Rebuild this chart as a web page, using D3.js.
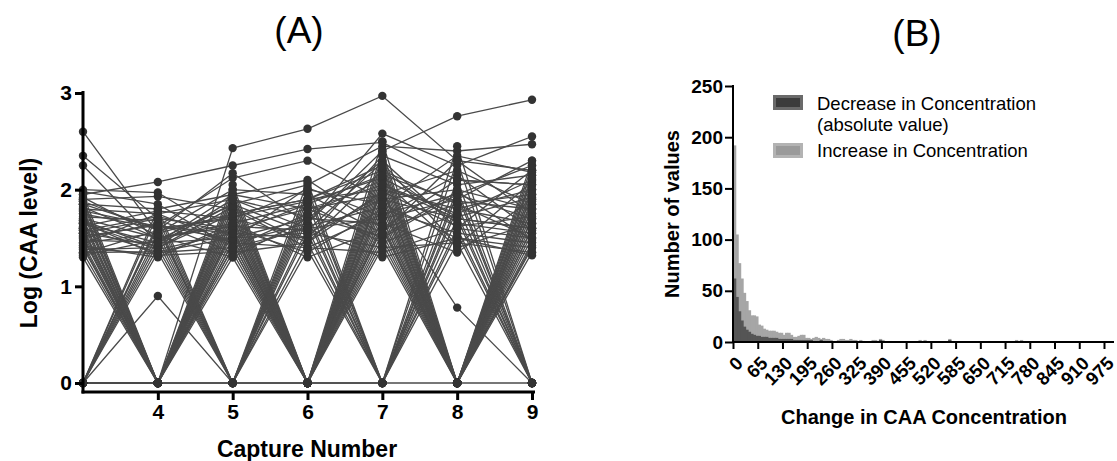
<!DOCTYPE html>
<html><head><meta charset="utf-8">
<script src="https://cdn.jsdelivr.net/npm/d3@7"></script>
<style>body{margin:0;background:#fff}svg{display:block}text{font-family:"Liberation Sans",Arial,sans-serif}</style>
</head><body><svg id="c" width="1117" height="461"></svg>
<script>
// ---------- Panel A data ----------
const captures = [3, 4, 5, 6, 7, 8, 9];
const captureTicks = [4, 5, 6, 7, 8, 9];
const logTicks = [0, 1, 2, 3];
// each row: log(CAA level) at captures 3..9
const allPositive = [
  [1.95, 2.08, 2.25, 2.42, 2.49, 2.10, 2.05],
  [2.60, 1.55, 1.75, 1.90, 2.20, 1.85, 1.95],
  [2.35, 1.70, 1.60, 1.80, 2.05, 1.70, 1.60],
  [2.25, 1.45, 1.85, 1.55, 1.90, 2.00, 1.80],
  [2.00, 1.97, 1.50, 1.70, 2.30, 1.60, 2.20],
  [1.90, 1.93, 1.80, 1.40, 1.75, 1.95, 1.70],
  [1.85, 1.80, 1.95, 2.10, 1.60, 1.85, 1.50],
  [1.80, 1.75, 1.45, 1.65, 2.40, 2.76, 2.93],
  [1.75, 1.60, 1.70, 2.00, 1.85, 1.50, 1.40],
  [1.70, 1.50, 1.65, 1.85, 1.45, 1.75, 2.10],
  [1.65, 1.38, 1.55, 1.50, 1.95, 2.20, 1.85],
  [1.60, 1.35, 1.40, 1.75, 2.10, 1.40, 1.65],
  [1.55, 1.42, 1.90, 1.60, 1.70, 1.90, 2.30],
  [1.50, 1.65, 1.35, 1.45, 2.20, 1.65, 1.55],
  [1.45, 1.55, 2.00, 1.95, 1.55, 2.30, 1.75],
  [1.40, 1.33, 1.60, 1.35, 1.80, 1.55, 1.45],
  [1.38, 1.40, 1.75, 1.90, 2.00, 1.80, 2.00],
  [1.35, 1.36, 1.50, 1.55, 1.40, 1.45, 1.35],
  [1.32, 1.48, 1.85, 2.05, 2.45, 2.40, 2.47],
  [1.92, 1.52, 1.30, 1.70, 1.65, 1.35, 1.90],
  [1.78, 1.62, 2.12, 2.30, 1.90, 1.70, 1.60],
  [1.62, 1.78, 1.70, 1.50, 2.35, 2.05, 2.15],
  [1.48, 1.45, 1.95, 1.80, 1.50, 1.95, 2.25],
  [1.88, 1.58, 2.17, 1.65, 2.58, 2.25, 2.55],
  [1.72, 1.68, 1.45, 1.40, 1.35, 1.60, 1.50],
  [1.58, 1.72, 1.55, 1.85, 2.15, 1.88, 1.80],
  [1.42, 1.30, 1.65, 1.30, 1.60, 2.10, 2.05],
  [1.98, 1.85, 1.40, 1.60, 1.30, 1.50, 1.32],
  [1.68, 1.40, 1.82, 1.45, 1.98, 1.62, 1.72],
  [1.52, 1.63, 1.48, 2.02, 1.72, 2.15, 1.58],
  [1.82, 1.50, 1.62, 1.58, 2.28, 1.42, 2.08],
  [1.44, 1.75, 1.90, 1.72, 1.52, 1.98, 1.48],
  [1.34, 1.58, 1.72, 1.88, 2.12, 1.72, 1.92],
  [1.66, 1.32, 1.36, 1.62, 1.82, 2.35, 2.18],
  [0.00, 0.00, 2.43, 2.63, 2.97, 2.30, 2.20]
];
const zeroEven = [
  [1.95, 0, 1.80, 0, 2.20, 0, 2.00],
  [1.90, 0, 1.60, 0, 1.90, 0, 1.80],
  [1.85, 0, 1.95, 0, 2.40, 0, 2.10],
  [1.80, 0, 1.45, 0, 1.70, 0, 1.55],
  [1.75, 0, 1.70, 0, 2.05, 0, 1.90],
  [1.70, 0, 1.55, 0, 1.50, 0, 1.65],
  [1.68, 0, 1.85, 0, 2.30, 0, 2.20],
  [1.65, 0, 1.40, 0, 1.85, 0, 1.40],
  [1.60, 0, 1.65, 0, 1.60, 0, 1.75],
  [1.55, 0, 1.90, 0, 2.10, 0, 1.95],
  [1.52, 0, 1.50, 0, 1.40, 0, 1.50],
  [1.50, 0, 1.75, 0, 1.95, 0, 2.05],
  [1.45, 0, 1.35, 0, 1.75, 0, 1.60],
  [1.42, 0, 1.60, 0, 2.25, 0, 1.85],
  [1.40, 0, 1.80, 0, 1.55, 0, 1.70],
  [1.35, 0, 1.45, 0, 1.80, 0, 1.45],
  [1.30, 0, 1.70, 0, 2.00, 0, 2.15],
  [1.88, 0, 2.05, 0, 1.65, 0, 1.35],
  [1.78, 0, 1.30, 0, 2.15, 0, 1.88],
  [1.58, 0, 1.95, 0, 1.45, 0, 2.25],
  [0, 0, 1.65, 0, 1.90, 0, 1.80],
  [0, 0, 1.40, 0, 2.35, 0, 1.60],
  [0, 0, 1.90, 0, 1.70, 0, 2.00],
  [0, 0, 2.00, 0, 2.50, 0, 1.70],
  [0, 0, 1.58, 0, 2.02, 0, 2.12],
  [0, 0, 1.75, 0, 1.62, 0, 1.42]
];
const zeroOdd = [
  [0, 1.80, 0, 1.95, 0, 2.10, 0],
  [0, 1.65, 0, 1.70, 0, 1.85, 0],
  [0, 1.50, 0, 1.55, 0, 2.30, 0],
  [0, 1.40, 0, 1.85, 0, 1.60, 0],
  [0, 1.75, 0, 1.45, 0, 1.95, 0],
  [0, 0.90, 0, 2.00, 0, 1.70, 0],
  [0, 1.35, 0, 1.60, 0, 2.00, 0],
  [0, 1.55, 0, 1.75, 0, 1.45, 0],
  [0, 1.62, 0, 1.38, 0, 2.45, 0],
  [0, 1.45, 0, 2.08, 0, 1.55, 0]
];
const mixed = [
  [1.85, 1.60, 0, 1.80, 1.95, 0.78, 0],
  [1.65, 1.45, 1.50, 0, 0, 1.80, 1.65],
  [0, 0, 0, 0, 0, 0, 0],
  [1.55, 1.70, 0, 0, 2.05, 1.75, 0],
  [0, 1.62, 1.55, 0, 1.85, 0, 1.95],
  [1.60, 0, 0, 1.90, 2.25, 0, 2.30]
];

// ---------- Panel B data ----------
const binWidth = 6.5;
const xTicksB = [0, 65, 130, 195, 260, 325, 390, 455, 520, 585, 650, 715, 780, 845, 910, 975];
const yTicksB = [0, 50, 100, 150, 200, 250];
// counts of consecutive bins starting at 0
const increaseHead = [192,105,77,62,48,40,31,26,26,25,17,16,13,12,11,11,11,10,9,9,7,9,9,7,5,5,6,7,7,4,4,3,4,5,4,3,4,3,3,2,1,0,2,3,3,2,2,3,2,2];
const decreaseHead = [62,44,30,21,15,12,10,8,7,6,6,5,5,5,4,4,4,4,3,3,3,3,3,3,2,2,2,2,2,2,2,2,1,1,1,2,1,1,1,1,1,1,1,1,0,1,1,1,1,1];
// sparse tail bins: lower edge and count
const increaseTailStart = [331.5, 338, 357.5, 364, 370.5, 377, 383.5, 390, 409.5, 487.5, 500.5, 507, 565.5, 643.5, 669.5, 741, 754, 760.5, 975];
const increaseTailCount = [2, 1, 1, 2, 2, 1, 3, 2, 1, 2, 2, 1, 3, 1, 1, 2, 2, 1, 1];
const decreaseTailStart = [338, 383.5, 565.5];
const decreaseTailCount = [1, 2, 2];
const legendLabels = [["Decrease in Concentration", "(absolute value)"], ["Increase in Concentration"]];

// ---------- Drawing ----------
const svg = d3.select("#c");
const lineColor = "#4a4a4a", dotColor = "#333";

// Panel A
const xA = d3.scaleLinear().domain([3, 9]).range([83, 532]);
const yA = d3.scaleLinear().domain([0, 3]).range([383, 93]);
const rows = [...allPositive, ...zeroEven, ...zeroOdd, ...mixed];
const gA = svg.append("g");
const line = d3.line().x((d, i) => xA(captures[i])).y(d => yA(d));
gA.append("g").selectAll("path").data(rows).join("path")
  .attr("d", line).attr("fill", "none").attr("stroke", lineColor).attr("stroke-width", 1.3);
const pts = rows.flatMap(r => r.map((v, i) => ({x: captures[i], y: v})));
gA.append("g").selectAll("circle").data(pts).join("circle")
  .attr("cx", d => xA(d.x)).attr("cy", d => yA(d.y)).attr("r", 4.2).attr("fill", dotColor);

const axisLeftA = gA.append("g").attr("transform", "translate(83,0)")
  .call(d3.axisLeft(yA).tickValues(logTicks).tickSize(8).tickPadding(3).tickFormat(d3.format("d")));
axisLeftA.select(".domain").remove();
axisLeftA.selectAll(".tick line").attr("stroke", "#000").attr("stroke-width", 3);
axisLeftA.selectAll("text").attr("font-size", 21).attr("font-weight", "bold").attr("fill", "#000");
gA.append("line").attr("x1", 83).attr("x2", 83).attr("y1", 91).attr("y2", 393.5).attr("stroke", "#000").attr("stroke-width", 3);

const axisBottomA = gA.append("g").attr("transform", "translate(0,392)")
  .call(d3.axisBottom(xA).tickValues(captureTicks).tickSize(8).tickPadding(4).tickFormat(d3.format("d")));
axisBottomA.select(".domain").remove();
axisBottomA.selectAll(".tick line").attr("stroke", "#000").attr("stroke-width", 3);
axisBottomA.selectAll("text").attr("font-size", 21).attr("font-weight", "bold").attr("fill", "#000");
gA.append("line").attr("x1", 81.5).attr("x2", 535).attr("y1", 392).attr("y2", 392).attr("stroke", "#000").attr("stroke-width", 3);

gA.append("text").attr("x", 307).attr("y", 457).attr("text-anchor", "middle")
  .attr("font-size", 23).attr("font-weight", "bold").text("Capture Number");
gA.append("text").attr("transform", "translate(37,243) rotate(-90)").attr("text-anchor", "middle")
  .attr("font-size", 23).attr("font-weight", "bold").text("Log (CAA level)");
svg.append("text").attr("x", 299).attr("y", 43).attr("text-anchor", "middle").attr("font-size", 37).text("(A)");

// Panel B
const xB = d3.scaleLinear().domain([0, 1000]).range([733, 1113.5]);
const yB = d3.scaleLinear().domain([0, 250]).range([342, 86]);
const gB = svg.append("g");
const toBins = (head, tStart, tCount) => [
  ...head.map((c, i) => ({x0: i * binWidth, c})),
  ...tStart.map((s, i) => ({x0: s, c: tCount[i]}))
].filter(d => d.c > 0);
const incBins = toBins(increaseHead, increaseTailStart, increaseTailCount);
const decBins = toBins(decreaseHead, decreaseTailStart, decreaseTailCount);
const drawBars = (bins, fill) => gB.append("g").selectAll("rect").data(bins).join("rect")
  .attr("x", d => xB(d.x0)).attr("width", d => xB(d.x0 + binWidth) - xB(d.x0) + 0.8)
  .attr("y", d => yB(d.c)).attr("height", d => yB(0) - yB(d.c)).attr("fill", fill);
drawBars(incBins, "#a6a6a6");
drawBars(decBins, "#555555");

const axisLeftB = gB.append("g").attr("transform", "translate(733,0)")
  .call(d3.axisLeft(yB).tickValues(yTicksB).tickSize(8).tickPadding(2));
axisLeftB.select(".domain").remove();
axisLeftB.selectAll(".tick line").attr("stroke", "#000").attr("stroke-width", 2);
axisLeftB.selectAll("text").attr("font-size", 19).attr("font-weight", "bold").attr("fill", "#000");
gB.append("line").attr("x1", 733).attr("x2", 733).attr("y1", 85).attr("y2", 343).attr("stroke", "#000").attr("stroke-width", 2);

const axisBottomB = gB.append("g").attr("transform", "translate(0,342)")
  .call(d3.axisBottom(xB).tickValues(xTicksB).tickSize(7));
axisBottomB.select(".domain").remove();
axisBottomB.selectAll(".tick line").attr("stroke", "#000").attr("stroke-width", 2);
axisBottomB.selectAll("text").attr("font-size", 18.5).attr("font-weight", "bold").attr("fill", "#000")
  .attr("text-anchor", "end").attr("dy", "0.35em").attr("y", 0)
  .attr("transform", "translate(6,18) rotate(-45)");
gB.append("line").attr("x1", 732).attr("x2", 1114).attr("y1", 342).attr("y2", 342).attr("stroke", "#000").attr("stroke-width", 2);

gB.append("text").attr("x", 924).attr("y", 424).attr("text-anchor", "middle")
  .attr("font-size", 20).attr("font-weight", "bold").text("Change in CAA Concentration");
gB.append("text").attr("transform", "translate(679,214) rotate(-90)").attr("text-anchor", "middle")
  .attr("font-size", 20).attr("font-weight", "bold").text("Number of values");
svg.append("text").attr("x", 917).attr("y", 46).attr("text-anchor", "middle").attr("font-size", 37).text("(B)");

// Legend
const legend = gB.append("g");
const swatches = [{y: 95, outer: "#6a6a6a", inner: "#3c3c3c"}, {y: 143, outer: "#b3b3b3", inner: "#9a9a9a"}];
swatches.forEach((s, i) => {
  legend.append("rect").attr("x", 773).attr("y", s.y).attr("width", 30).attr("height", 15).attr("fill", s.outer);
  legend.append("rect").attr("x", 776).attr("y", s.y + 3).attr("width", 24).attr("height", 9).attr("fill", s.inner);
});
const legendBase = [[110, 131], [157]];
legendLabels.forEach((lines, i) => lines.forEach((t, j) => {
  legend.append("text").attr("x", 817).attr("y", legendBase[i][j]).attr("font-size", 18.5).attr("fill", "#000").text(t);
}));
</script></body></html>
